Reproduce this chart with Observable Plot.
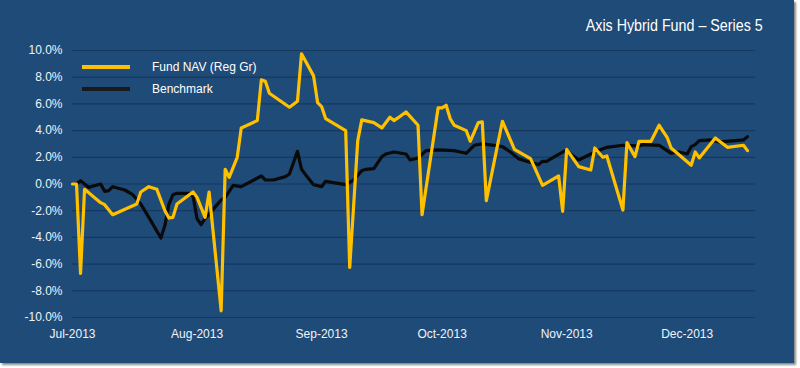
<!DOCTYPE html>
<html>
<head>
<meta charset="utf-8">
<script src="https://cdn.jsdelivr.net/npm/d3@7"></script>
<script src="https://cdn.jsdelivr.net/npm/@observablehq/plot@0.6"></script>
<style>
  html, body { margin: 0; padding: 0; background: #ffffff; }
  #wrap { position: relative; width: 800px; height: 368px; overflow: hidden; }
  #chart svg { display: block; box-shadow: 2px 2px 2px #8a8a8a; }
  #title { position: absolute; right: 37px; top: 16px; color: #ffffff;
    font-family: "Liberation Sans", Arial, sans-serif;
    font-size: 17px; white-space: nowrap; transform: scaleX(0.84); transform-origin: right center; }
  #legend { position: absolute; left: 82px; top: 56px; color: #ffffff;
    font-family: "Liberation Sans", Arial, sans-serif; font-size: 12px; }
  .item { display: flex; align-items: center; height: 22px; }
  .sw { width: 48px; height: 4px; margin-right: 22px; }
</style>
</head>
<body>
<div id="wrap">
  <div id="chart"></div>
  <div id="title">Axis Hybrid Fund – Series 5</div>
  <div id="legend">
    <div class="item"><div class="sw" style="background:#ffc000"></div>Fund NAV (Reg Gr)</div>
    <div class="item"><div class="sw" style="background:#1a1a1a"></div>Benchmark</div>
  </div>
</div>
<script>
const fundDates = ["2013-07-01","2013-07-02","2013-07-03","2013-07-04","2013-07-08","2013-07-09","2013-07-11","2013-07-17","2013-07-18","2013-07-20","2013-07-22","2013-07-24","2013-07-25","2013-07-26","2013-07-27","2013-07-31","2013-08-01","2013-08-03","2013-08-04","2013-08-07","2013-08-08","2013-08-09","2013-08-11","2013-08-12","2013-08-16","2013-08-17","2013-08-18","2013-08-19","2013-08-24","2013-08-26","2013-08-27","2013-08-30","2013-08-31","2013-09-01","2013-09-02","2013-09-07","2013-09-08","2013-09-10","2013-09-11","2013-09-14","2013-09-16","2013-09-18","2013-09-19","2013-09-20","2013-09-22","2013-09-25","2013-09-26","2013-09-30","2013-10-01","2013-10-02","2013-10-03","2013-10-04","2013-10-07","2013-10-08","2013-10-10","2013-10-11","2013-10-12","2013-10-16","2013-10-19","2013-10-23","2013-10-24","2013-10-26","2013-10-30","2013-10-31","2013-11-01","2013-11-04","2013-11-07","2013-11-08","2013-11-10","2013-11-11","2013-11-15","2013-11-16","2013-11-18","2013-11-19","2013-11-22","2013-11-24","2013-11-26","2013-11-27","2013-12-02","2013-12-03","2013-12-04","2013-12-08","2013-12-11","2013-12-15","2013-12-16"];
const fundValues = [0.0,0.0,-6.7,-0.4,-1.4,-1.55,-2.3,-1.5,-0.6,-0.2,-0.4,-2.0,-2.55,-2.5,-1.5,-0.6,-1.0,-2.5,-0.6,-9.5,1.1,0.5,2.0,4.2,4.75,7.8,7.7,6.8,5.75,6.2,9.75,8.1,6.1,5.8,4.9,4.0,-6.25,3.25,4.8,4.6,4.2,5.0,4.75,4.95,5.4,4.4,-2.3,5.7,5.7,5.9,4.9,4.4,4.0,3.2,4.6,4.65,-1.25,4.7,2.6,1.9,1.25,-0.1,0.6,-2.05,2.6,1.3,1.05,2.7,2.0,2.1,-1.95,3.1,2.05,3.2,3.2,4.4,3.5,2.7,1.4,2.4,1.95,3.45,2.75,2.9,2.5];
const benchDates = ["2013-07-02","2013-07-03","2013-07-05","2013-07-08","2013-07-09","2013-07-10","2013-07-11","2013-07-14","2013-07-16","2013-07-18","2013-07-20","2013-07-23","2013-07-24","2013-07-25","2013-07-26","2013-07-27","2013-07-30","2013-07-31","2013-08-01","2013-08-02","2013-08-03","2013-08-05","2013-08-07","2013-08-08","2013-08-10","2013-08-12","2013-08-17","2013-08-18","2013-08-20","2013-08-23","2013-08-24","2013-08-26","2013-08-27","2013-08-28","2013-08-30","2013-09-01","2013-09-02","2013-09-05","2013-09-07","2013-09-09","2013-09-11","2013-09-12","2013-09-14","2013-09-16","2013-09-17","2013-09-19","2013-09-22","2013-09-23","2013-09-25","2013-09-27","2013-09-30","2013-10-04","2013-10-07","2013-10-09","2013-10-11","2013-10-14","2013-10-16","2013-10-18","2013-10-20","2013-10-22","2013-10-25","2013-10-26","2013-10-27","2013-10-29","2013-11-01","2013-11-02","2013-11-04","2013-11-08","2013-11-11","2013-11-15","2013-11-19","2013-11-20","2013-11-24","2013-11-25","2013-11-27","2013-11-29","2013-12-01","2013-12-02","2013-12-03","2013-12-04","2013-12-07","2013-12-09","2013-12-13","2013-12-15","2013-12-16"];
const benchValues = [0.0,0.25,-0.25,0.0,-0.55,-0.5,-0.2,-0.45,-0.8,-1.5,-2.5,-4.05,-3.1,-1.5,-0.8,-0.7,-0.7,-0.9,-2.6,-3.05,-2.6,-1.9,-1.2,-1.0,-0.1,-0.2,0.6,0.3,0.3,0.55,0.75,2.45,1.1,0.7,-0.05,-0.2,0.2,0.05,-0.05,0.3,1.0,1.1,1.15,2.05,2.25,2.4,2.25,1.8,1.95,2.5,2.55,2.5,2.3,2.9,3.0,2.9,2.8,2.4,1.9,1.7,1.45,1.7,1.7,2.05,2.55,2.25,1.8,2.4,2.75,2.9,2.85,2.95,2.9,2.7,2.3,2.4,2.25,2.8,2.95,3.25,3.3,3.15,3.25,3.3,3.55];
const yTicks = [-10,-8,-6,-4,-2,0,2,4,6,8,10];
const xTickDates = ["2013-07-01","2013-08-01","2013-09-01","2013-10-01","2013-11-01","2013-12-01"];
const monthNames = ["Jan","Feb","Mar","Apr","May","Jun","Jul","Aug","Sep","Oct","Nov","Dec"];

const parse = d3.utcParse("%Y-%m-%d");
const fund = fundDates.map((d, i) => ({date: parse(d), value: fundValues[i]}));
const bench = benchDates.map((d, i) => ({date: parse(d), value: benchValues[i]}));
const domainX = [parse("2013-07-01"), parse("2013-12-18")];

const plot = Plot.plot({
  width: 794,
  height: 363,
  marginLeft: 72,
  marginRight: 39,
  marginTop: 50,
  marginBottom: 46,
  style: {background: "#1f4b78", fontFamily: "'Liberation Sans', Arial, sans-serif", color: "#ffffff"},
  x: {type: "utc", domain: domainX, label: null},
  y: {domain: [-10, 10], label: null},
  marks: [
    Plot.ruleY(yTicks, {stroke: "#163860", strokeWidth: 1.2}),
    Plot.axisY({ticks: yTicks, tickSize: 0, tickPadding: 10, label: null, tickFormat: d => d.toFixed(1) + "%", fontSize: 12, fill: "#f0f4f8"}),
    Plot.axisX({ticks: xTickDates.map(parse), tickSize: 0, tickPadding: 12, label: null, fontSize: 12, fill: "#f0f4f8",
      tickFormat: d => monthNames[d.getUTCMonth()] + "-" + d.getUTCFullYear()}),
    Plot.line(bench, {x: "date", y: "value", stroke: "#0a0a0a", strokeWidth: 3.2, strokeLinejoin: "round"}),
    Plot.line(fund, {x: "date", y: "value", stroke: "#ffc000", strokeWidth: 3.2, strokeLinejoin: "round"})
  ]
});
document.getElementById("chart").appendChild(plot);
</script>
</body>
</html>
